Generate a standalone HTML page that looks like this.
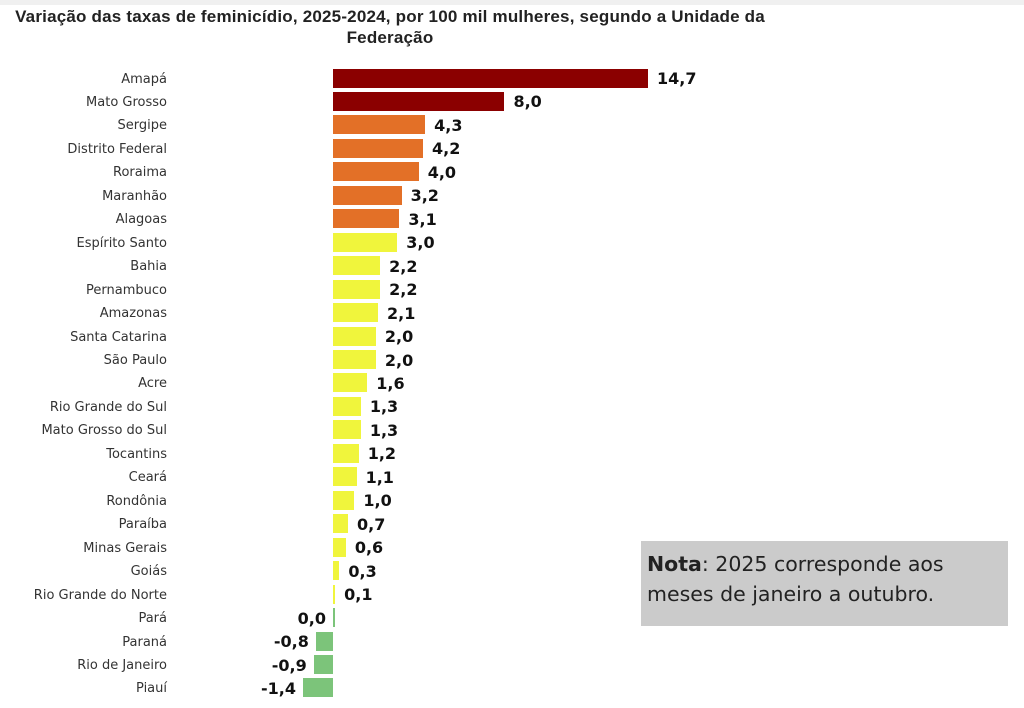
<!DOCTYPE html><html><head><meta charset="utf-8"><style>
body{margin:0;width:1024px;height:708px;background:#fff;position:relative;overflow:hidden;font-family:"DejaVu Sans","Liberation Sans",sans-serif}
.t{position:absolute;left:0;width:780px;text-align:center;font-family:"Liberation Sans",sans-serif;font-weight:bold;font-size:17px;letter-spacing:0.2px;color:#222;line-height:21px}
.l{position:absolute;left:0;width:167px;text-align:right;font-size:13px;color:#333;line-height:18px}
.b{position:absolute;height:19px}
.v{position:absolute;font-size:16px;font-weight:bold;color:#111;line-height:18px}
.n{position:absolute;left:641px;top:541px;width:367px;height:85px;background:#cbcbcb;font-size:20.5px;color:#222;box-sizing:border-box;padding:8px 6px;line-height:30px;font-family:"DejaVu Sans",sans-serif}
</style></head><body>
<div style="position:absolute;left:0;top:0;width:1024px;height:5px;background:#f0f0f0"></div>
<div class="t" style="top:6px">Variação das taxas de feminicídio, 2025-2024, por 100 mil mulheres, segundo a Unidade da<br>Federação</div>
<div id="c"></div>
<div class="n"><b>Nota</b>: 2025 corresponde aos<br>meses de janeiro a outubro.</div>
<script>
var d=[["Amapá",14.7,"#8b0000"],["Mato Grosso",8.0,"#8b0000"],["Sergipe",4.3,"#e37027"],["Distrito Federal",4.2,"#e37027"],["Roraima",4.0,"#e37027"],["Maranhão",3.2,"#e37027"],["Alagoas",3.1,"#e37027"],["Espírito Santo",3.0,"#f0f53c"],["Bahia",2.2,"#f0f53c"],["Pernambuco",2.2,"#f0f53c"],["Amazonas",2.1,"#f0f53c"],["Santa Catarina",2.0,"#f0f53c"],["São Paulo",2.0,"#f0f53c"],["Acre",1.6,"#f0f53c"],["Rio Grande do Sul",1.3,"#f0f53c"],["Mato Grosso do Sul",1.3,"#f0f53c"],["Tocantins",1.2,"#f0f53c"],["Ceará",1.1,"#f0f53c"],["Rondônia",1.0,"#f0f53c"],["Paraíba",0.7,"#f0f53c"],["Minas Gerais",0.6,"#f0f53c"],["Goiás",0.3,"#f0f53c"],["Rio Grande do Norte",0.1,"#f0f53c"],["Pará",0.0,"#7cc47a"],["Paraná",-0.8,"#7cc47a"],["Rio de Janeiro",-0.9,"#7cc47a"],["Piauí",-1.4,"#7cc47a"]];
var h="",z=333,s=21.43;
d.forEach(function(r,i){var cy=78+i*23.46;var w=Math.max(Math.abs(r[1])*s,1.5);var x=r[1]>=0?z:z-w;
var txt=r[1].toFixed(1).replace(".",",");
h+='<div class="l" style="top:'+(cy-7.5)+'px">'+r[0]+'</div>';
h+='<div class="b" style="left:'+x+'px;top:'+(cy-9.5)+'px;width:'+w+'px;background:'+r[2]+'"></div>';
if(r[1]>0)h+='<div class="v" style="left:'+(z+w+9)+'px;top:'+(cy-8)+'px">'+txt+'</div>';
else h+='<div class="v" style="right:'+(1024-x+7)+'px;top:'+(cy-8)+'px">'+txt+'</div>';});
document.getElementById("c").innerHTML=h;
</script></body></html>
